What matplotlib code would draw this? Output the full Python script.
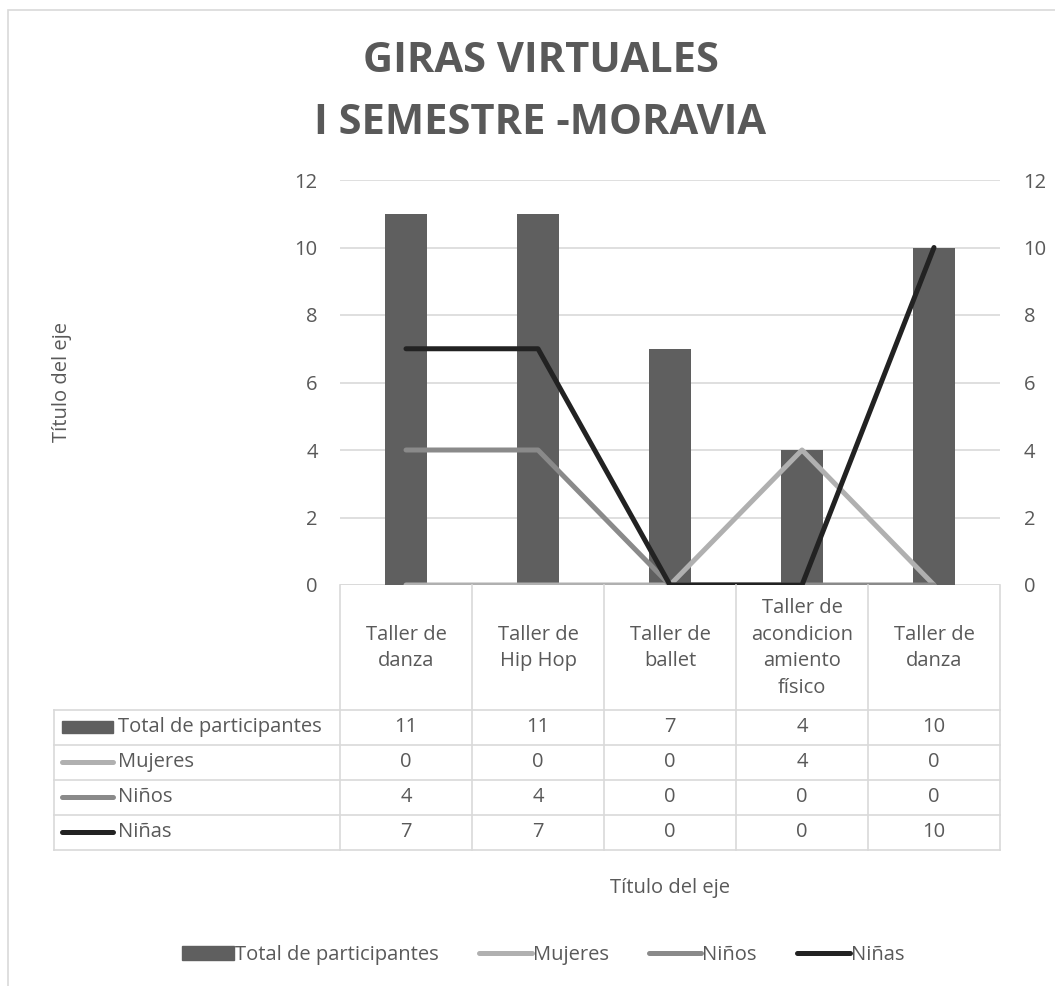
import numpy as np
import matplotlib
matplotlib.use("Agg")
from matplotlib import pyplot as plt
from matplotlib.lines import Line2D
from matplotlib.patches import Patch, Rectangle

# Data
categories = ["Taller de\ndanza", "Taller de\nHip Hop", "Taller de\nballet",
              "Taller de\nacondicion\namiento\nfísico", "Taller de\ndanza"]
total = [11, 11, 7, 4, 10]
mujeres = [0, 0, 0, 4, 0]
ninos = [4, 4, 0, 0, 0]
ninas = [7, 7, 0, 0, 10]
series_names = ["Total de participantes", "Mujeres", "Niños", "Niñas"]
y_ticks = [0, 2, 4, 6, 8, 10, 12]

# Style
plt.rcParams['font.family'] = ['Open Sans', 'DejaVu Sans']
TXT = '#595959'
GRID = '#d9d9d9'
C_BAR = '#5f5f5f'
C_MUJ = '#b0b0b0'
C_NIO = '#8a8a8a'
C_NIA = '#222222'
FS = 14.5

W, H = 1055, 986
fig = plt.figure(figsize=(W / 100, H / 100), dpi=100)

def fx(px):
    return px / W

def fy(py):
    return 1 - py / H

# chart area border
fig.patches.append(Rectangle((fx(8), fy(1100)), 1.2, fy(10) - fy(1100),
                             transform=fig.transFigure, fill=False,
                             edgecolor=GRID, linewidth=1.2))

# main plot area
ax = fig.add_axes([fx(340), fy(585), fx(660), 405 / H])
x = np.arange(len(categories))
ax.bar(x, total, width=0.32, color=C_BAR, zorder=2)
ax.set_xlim(-0.5, len(categories) - 0.5)
ax.set_ylim(0, 12)
ax.set_yticks(y_ticks)
ax.grid(axis='y', color=GRID, linewidth=1.2, zorder=0)
ax.set_axisbelow(True)
for s in ['top', 'right', 'left', 'bottom']:
    ax.spines[s].set_visible(False)
ax.tick_params(axis='y', length=0, labelsize=FS, labelcolor=TXT, pad=16)
ax.set_xticks([])
ax.axhline(0, color=GRID, linewidth=1.2, zorder=1)

ax2 = ax.twinx()
ax2.set_ylim(0, 12)
ax2.set_yticks(y_ticks)
for s in ['top', 'right', 'left', 'bottom']:
    ax2.spines[s].set_visible(False)
ax2.tick_params(axis='y', length=0, labelsize=FS, labelcolor=TXT, pad=17)
ax2.plot(x, mujeres, color=C_MUJ, linewidth=3.6, solid_capstyle='round', zorder=3)
ax2.plot(x, ninos, color=C_NIO, linewidth=3.6, solid_capstyle='round', zorder=4)
ax2.plot(x, ninas, color=C_NIA, linewidth=3.6, solid_capstyle='round', zorder=5)

# Title and axis titles
fig.text(fx(541), fy(62), "GIRAS VIRTUALES", ha='center', va='center',
         fontsize=30, fontweight='bold', color=TXT)
fig.text(fx(540), fy(123), "I SEMESTRE -MORAVIA", ha='center', va='center',
         fontsize=30, fontweight='bold', color=TXT)
fig.text(fx(62), fy(382), "Título del eje", rotation=90, ha='center', va='center',
         fontsize=FS, color=TXT)
fig.text(fx(670), fy(888), "Título del eje", ha='center', va='center',
         fontsize=FS, color=TXT)

# Data table
tab = fig.add_axes([fx(340), fy(850), fx(660), 265 / H])
tab.set_xlim(-0.5, len(categories) - 0.5)
tab.set_ylim(265, 0)
tab.axis('off')
left = -0.5 - 286 / 132
lk = dict(color=GRID, linewidth=1.2, clip_on=False)
for i in range(len(categories) + 1):
    tab.plot([i - 0.5, i - 0.5], [0, 265], **lk)
for yy in [125, 160, 195, 230, 265]:
    tab.plot([left, len(categories) - 0.5], [yy, yy], **lk)
tab.plot([left, left], [125, 265], **lk)

for i, c in enumerate(categories):
    tab.text(i, 63, c, ha='center', va='center', fontsize=FS, color=TXT,
             linespacing=1.45)

rows = [total, mujeres, ninos, ninas]
row_colors = [C_BAR, C_MUJ, C_NIO, C_NIA]
for r, (name, vals, col) in enumerate(zip(series_names, rows, row_colors)):
    yc = 142 + 35 * r
    for i, v in enumerate(vals):
        tab.text(i, yc, str(v), ha='center', va='center', fontsize=FS, color=TXT)
    k0 = left + 8 / 132
    k1 = left + 59 / 132
    if r == 0:
        tab.add_patch(Rectangle((k0, yc - 6), k1 - k0, 12, color=col, clip_on=False))
    else:
        tab.plot([k0, k1], [yc, yc], color=col, linewidth=3.6,
                 solid_capstyle='round', clip_on=False)
    tab.text(left + 64 / 132, yc, name, ha='left', va='center', fontsize=FS,
             color=TXT, clip_on=False)

# Legend
handles = [Patch(color=C_BAR),
           Line2D([], [], color=C_MUJ, linewidth=3.6, solid_capstyle='round'),
           Line2D([], [], color=C_NIO, linewidth=3.6, solid_capstyle='round'),
           Line2D([], [], color=C_NIA, linewidth=3.6, solid_capstyle='round')]
fig.legend(handles, series_names, loc='center', bbox_to_anchor=(fx(543), fy(955)),
           ncol=4, frameon=False, fontsize=FS, labelcolor=TXT,
           handlelength=2.6, handletextpad=0.05, columnspacing=2.0)

fig.savefig("out.png", dpi=100)
